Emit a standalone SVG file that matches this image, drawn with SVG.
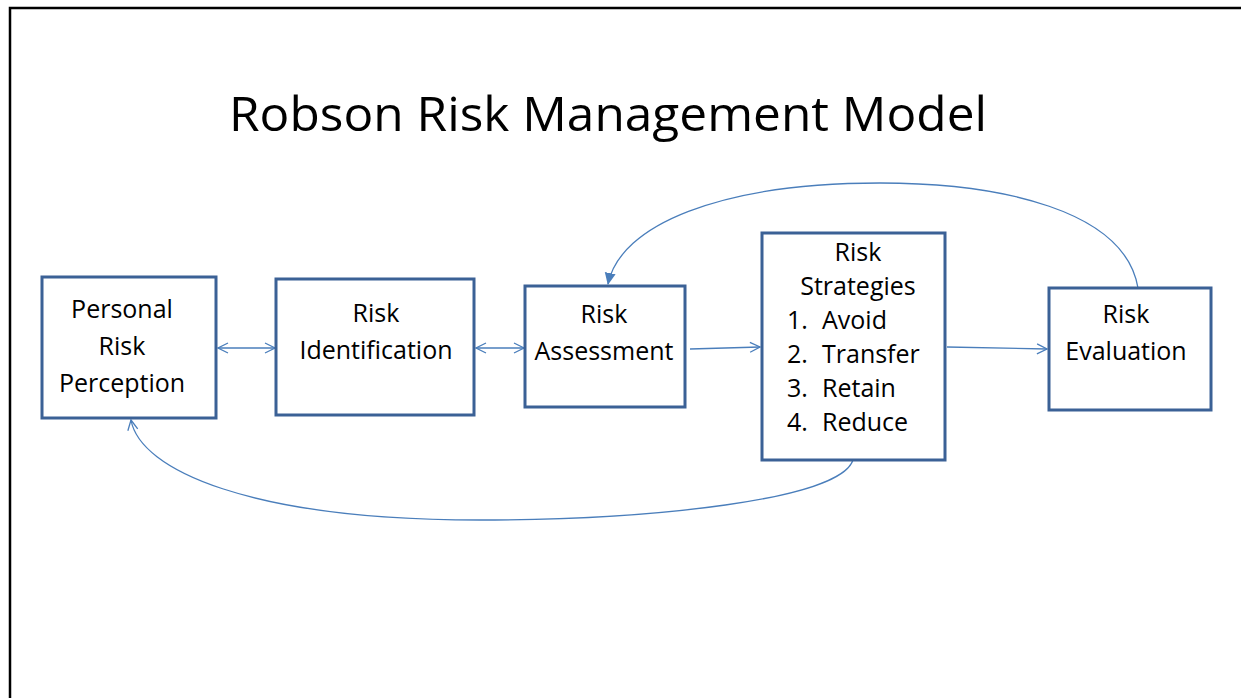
<svg xmlns="http://www.w3.org/2000/svg" width="1241" height="698" viewBox="0 0 1241 698">
<defs>
<style>
.box{fill:#fff;stroke:#3B6196;stroke-width:3}
.t{font-family:"Open Sans","Liberation Sans",Arial,sans-serif;font-size:25px;fill:#000}
.c{text-anchor:middle}
.ln{fill:none;stroke:#4A7EBB;stroke-width:1.3}
</style>
<marker id="open" viewBox="0 0 12 12" refX="11" refY="6" markerWidth="12" markerHeight="12" markerUnits="userSpaceOnUse" orient="auto-start-reverse">
<path d="M1,1 L11,6 L1,11" fill="none" stroke="#4A7EBB" stroke-width="1.3"/>
</marker>
<marker id="tri" viewBox="0 0 12 12" refX="11" refY="6" markerWidth="12" markerHeight="12" markerUnits="userSpaceOnUse" orient="auto">
<path d="M0,0.5 L12,6 L0,11.5 Z" fill="#4A7EBB"/>
</marker>
</defs>
<rect x="0" y="0" width="1241" height="698" fill="#fff"/>
<path d="M10,698 L10,8 L1241,8" fill="none" stroke="#000" stroke-width="2.5"/>
<text x="608" y="131" text-anchor="middle" font-family="'Open Sans','Liberation Sans',Arial,sans-serif" font-size="47" textLength="758" lengthAdjust="spacingAndGlyphs">Robson Risk Management Model</text>

<g id="connectors">
<line class="ln" x1="218" y1="348" x2="275" y2="348" marker-start="url(#open)" marker-end="url(#open)"/>
<line class="ln" x1="476" y1="348" x2="524" y2="348" marker-start="url(#open)" marker-end="url(#open)"/>
<line class="ln" x1="690" y1="349" x2="760" y2="347" marker-end="url(#open)"/>
<line class="ln" x1="947" y1="347" x2="1047" y2="349" marker-end="url(#open)"/>
<path class="ln" d="M1138,288 C1125,210 1000,183 880,183 C720,183 620,225 608,284" marker-end="url(#tri)"/>
<path class="ln" d="M853,460 C840,500 650,520 480,520 C250,520 140,470 131,420" marker-end="url(#open)"/>
</g>

<g id="personal-risk-perception">
<rect class="box" x="42" y="277" width="174" height="141"/>
<text class="t c" x="122" y="318">Personal</text>
<text class="t c" x="122" y="355">Risk</text>
<text class="t c" x="122" y="392">Perception</text>
</g>
<g id="risk-identification">
<rect class="box" x="276" y="279" width="198" height="136"/>
<text class="t c" x="376" y="322">Risk</text>
<text class="t c" x="376" y="359">Identification</text>
</g>
<g id="risk-assessment">
<rect class="box" x="525" y="286" width="160" height="121"/>
<text class="t c" x="604" y="323">Risk</text>
<text class="t c" x="604" y="360">Assessment</text>
</g>
<g id="risk-strategies">
<rect class="box" x="762" y="233" width="183" height="227"/>
<text class="t c" x="858" y="261">Risk</text>
<text class="t c" x="858" y="295">Strategies</text>
<text class="t" x="787" y="329">1.</text><text class="t" x="822" y="329">Avoid</text>
<text class="t" x="787" y="363">2.</text><text class="t" x="822" y="363">Transfer</text>
<text class="t" x="787" y="397">3.</text><text class="t" x="822" y="397">Retain</text>
<text class="t" x="787" y="431">4.</text><text class="t" x="822" y="431">Reduce</text>
</g>
<g id="risk-evaluation">
<rect class="box" x="1049" y="288" width="162" height="122"/>
<text class="t c" x="1126" y="323">Risk</text>
<text class="t c" x="1126" y="360">Evaluation</text>
</g>
</svg>
